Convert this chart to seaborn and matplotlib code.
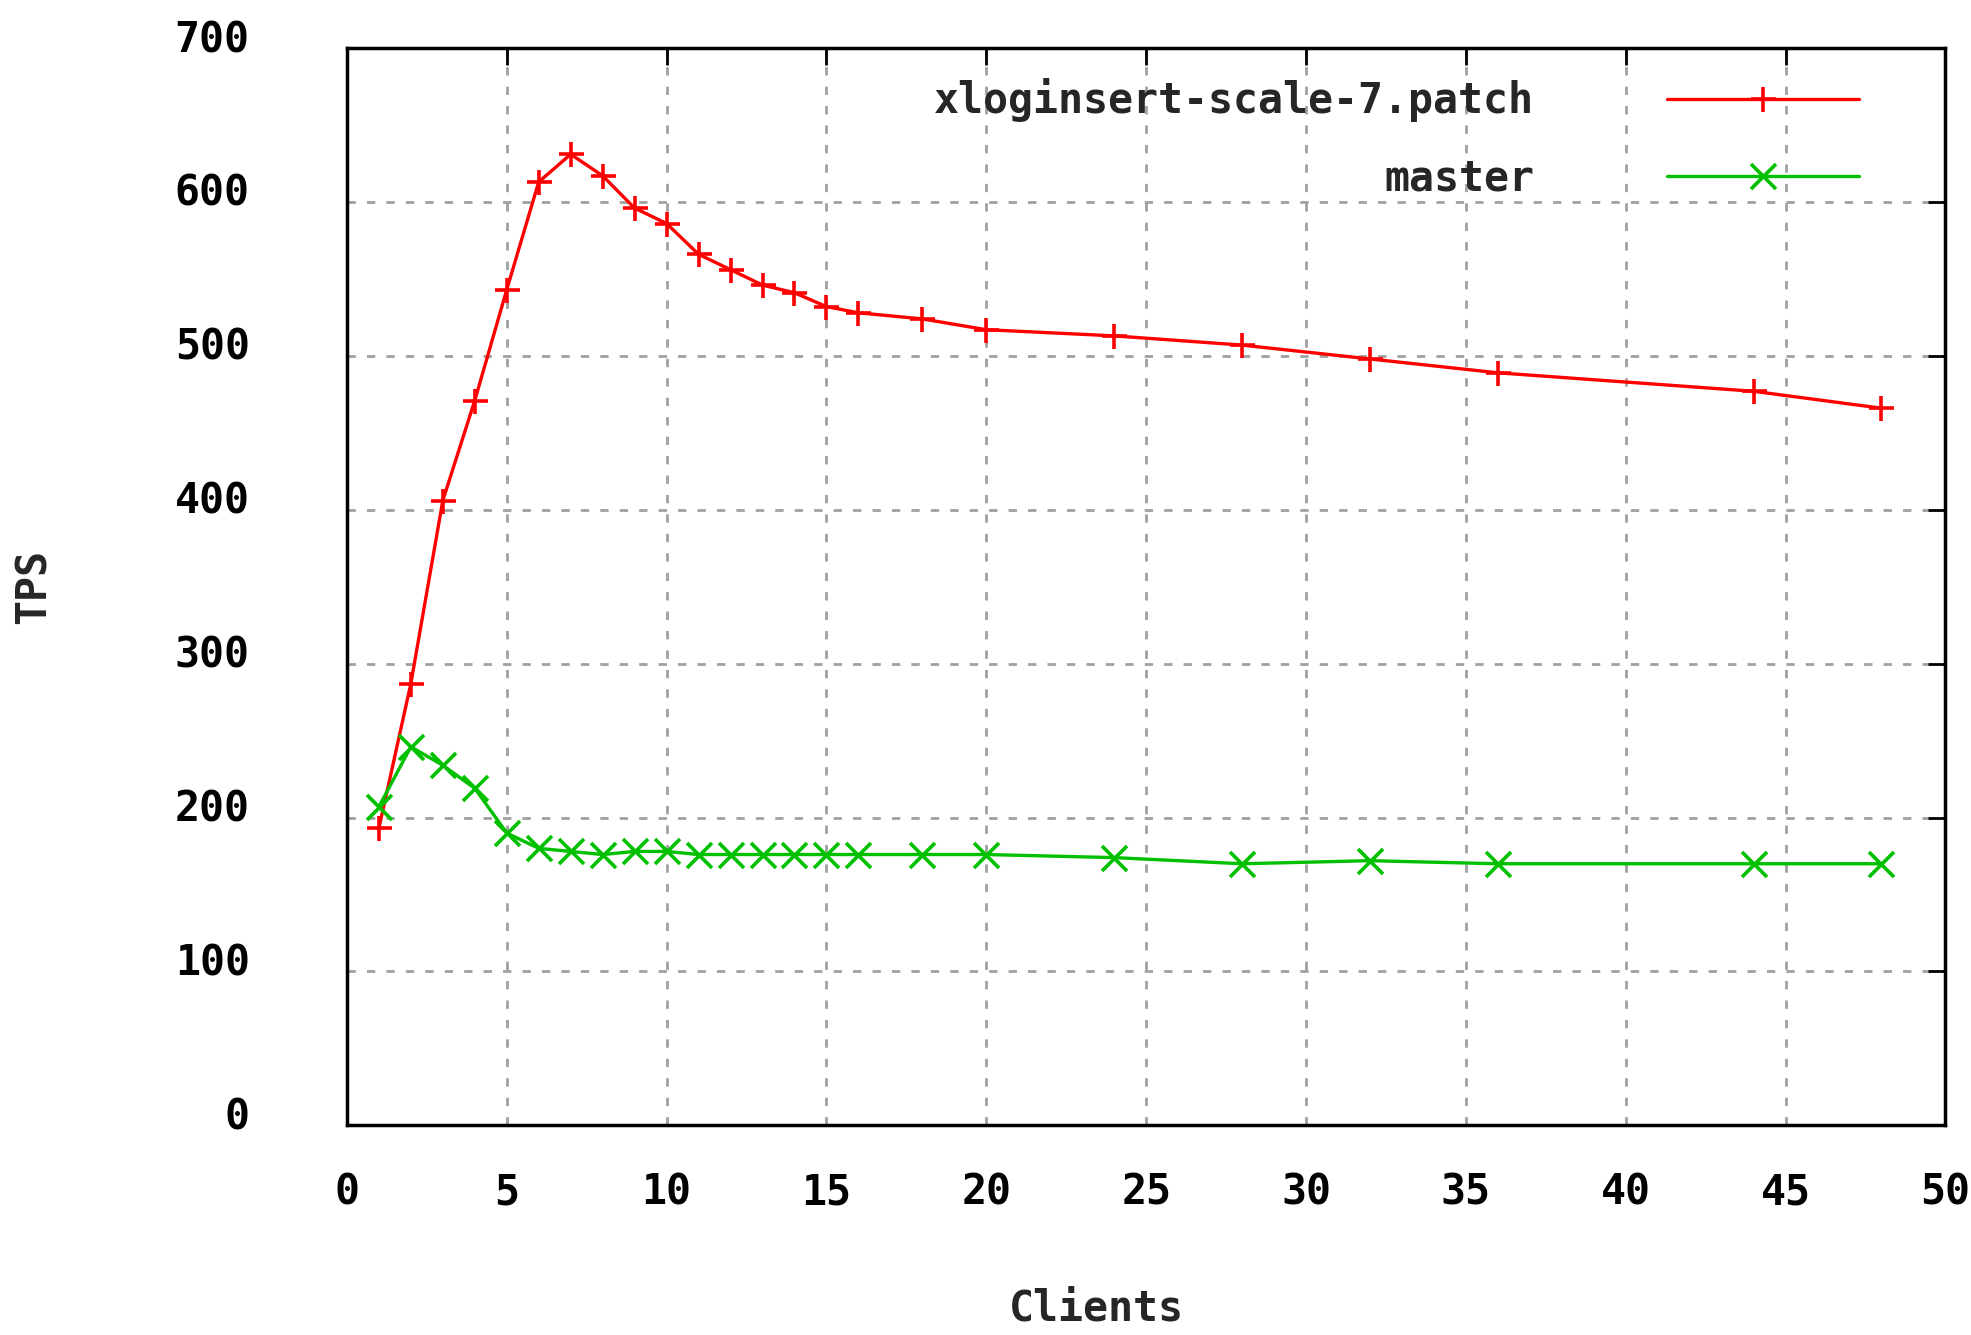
import pandas as pd
import matplotlib
matplotlib.use("Agg")
import matplotlib.pyplot as plt
import matplotlib.transforms as mtransforms
import seaborn as sns

# Dados (TPS por número de clientes)
clients = [1, 2, 3, 4, 5, 6, 7, 8, 9, 10, 11, 12, 13, 14, 15, 16, 18, 20, 24, 28, 32, 36, 44, 48]
tps_patch = [193, 287, 406, 471, 543, 613, 631, 617, 596, 586, 566, 556, 546, 541, 532, 528,
             524, 517, 513, 507, 498, 489, 477, 466]
tps_master = [207, 246, 234, 219, 190, 180, 178, 176, 178, 178, 176, 176, 176, 176, 176, 176,
              176, 176, 174, 170, 172, 170, 170, 170]
series_names = ["xloginsert-scale-7.patch", "master"]
x_ticks = list(range(0, 51, 5))
y_ticks = list(range(0, 701, 100))

df = pd.DataFrame({
    "Clients": clients * 2,
    "TPS": tps_patch + tps_master,
    "serie": [series_names[0]] * len(clients) + [series_names[1]] * len(clients),
})

sns.set_style("white")
plt.rcParams["font.family"] = ["DejaVu Sans Mono", "DejaVu Sans"]
plt.rcParams["font.weight"] = "bold"

fig = plt.figure(figsize=(19.71, 13.35), dpi=100)
ax = fig.add_axes([0.176, 0.157, 0.811, 0.807])

sns.lineplot(
    data=df, x="Clients", y="TPS", hue="serie", style="serie",
    palette=["#ff0000", "#00c000"], markers=["+", "x"], dashes=False,
    markersize=18, markeredgewidth=2.6, linewidth=2.4, ax=ax,
)
# marcadores '+' e 'x' ficam brancos com o estilo do seaborn
for ln in ax.lines:
    ln.set_markeredgecolor(ln.get_color())

ax.set_xlim(0, 50)
ax.set_ylim(0, 700)
ax.set_xticks(x_ticks)
ax.set_yticks(y_ticks)
ax.grid(True, color="#a0a0a0", linestyle=(0, (3, 4)), linewidth=2)
ax.tick_params(axis="both", direction="in", length=12, width=2, top=True, right=True,
               labelsize=30, colors="black")
ax.tick_params(axis="y", pad=70)
ax.tick_params(axis="x", pad=33)
offset = mtransforms.ScaledTranslation(0, 9 / 72, fig.dpi_scale_trans)
for lbl in ax.get_yticklabels():
    lbl.set_transform(lbl.get_transform() + offset)
for s in ax.spines.values():
    s.set_linewidth(2.5)
    s.set_color("black")

ax.set_xlabel("Clients", fontsize=30, fontweight="bold")
ax.set_ylabel("TPS", fontsize=30, fontweight="bold")
ax.xaxis.set_label_coords(0.469, -0.15)
ax.yaxis.set_label_coords(-0.183, 0.5)

handles, labels = ax.get_legend_handles_labels()
leg = ax.legend(handles, labels, loc="upper right", bbox_to_anchor=(0.946, 0.972),
                markerfirst=False, frameon=False, handlelength=4.6, handletextpad=3.2,
                borderpad=0, borderaxespad=0, labelspacing=0.85, fontsize=30)
for h in leg.legend_handles:
    h.set_markeredgecolor(h.get_color())

fig.savefig("out.png", dpi=100)
plt.close(fig)
